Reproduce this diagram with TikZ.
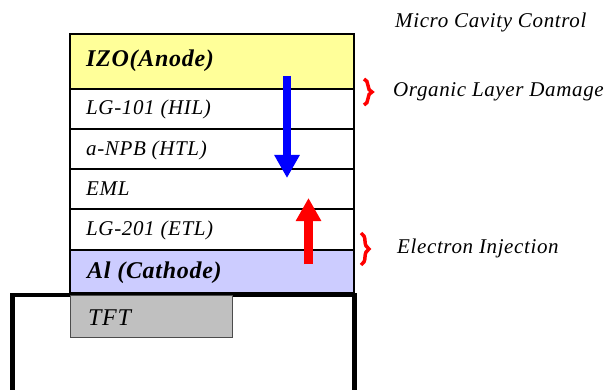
\documentclass[tikz,border=0pt]{standalone}
\usepackage{fontspec}
\setmainfont{Liberation Serif}[LetterSpace=3]
\usetikzlibrary{arrows.meta,decorations.pathreplacing}
\definecolor{anodeY}{HTML}{FFFF99}
\definecolor{cathB}{HTML}{CCCCFF}
\definecolor{tftG}{HTML}{C0C0C0}
\begin{document}
\begin{tikzpicture}[x=1pt,y=-1pt,
  layer/.style={draw=black,line width=1.4pt,minimum width=284pt,inner sep=0pt,anchor=north west,outer sep=0pt},
  lbl/.style={font=\fontsize{21}{24}\selectfont\itshape,anchor=west,inner sep=0pt},
  blbl/.style={font=\fontsize{24}{28}\selectfont\bfseries\itshape,anchor=west,inner sep=0pt},
  note/.style={font=\fontsize{21}{24}\selectfont\itshape,anchor=west,inner sep=0pt},
  bigarrow/.style={line width=8.5pt,-{Triangle[length=23pt,width=24pt]}},
  redbrace/.style={draw=red,line width=3.5pt,decorate,decoration={brace,amplitude=8pt,aspect=0.5}}]
\useasboundingbox (0,0) rectangle (612,390);
\begin{scope}
\clip (0,0) rectangle (612,390);
% substrate
\draw[line width=4.5pt] (12.5,396) coordinate (sbl) -- (12.5,295) -- (354.5,295) -- (354.5,396);
\end{scope}
% TFT
\node[draw=black!70,fill=tftG,line width=1pt,minimum width=162pt,minimum height=42pt,anchor=north west,inner sep=0pt] (tft) at (70,295) {};
\node[font=\fontsize{24}{28}\selectfont\itshape,anchor=west,inner sep=0pt] (tftl) at (88,318) {TFT};
% layers
\node[layer,fill=anodeY,minimum height=55pt] (izo) at (70,34) {};
\node[layer,minimum height=40pt] (hil) at (70,89) {};
\node[layer,minimum height=40pt] (htl) at (70,129) {};
\node[layer,minimum height=40pt] (eml) at (70,169) {};
\node[layer,minimum height=41pt] (etl) at (70,209) {};
\node[layer,fill=cathB,minimum height=43pt] (al) at (70,250) {};
\node[blbl] (izol) at (86,61) {IZO(Anode)};
\node[lbl] (hill) at (86,109) {LG-101 (HIL)};
\node[lbl] (htll) at (86,150) {a-NPB (HTL)};
\node[lbl] (emll) at (86,189) {EML};
\node[lbl] (etll) at (86,230) {LG-201 (ETL)};
\node[blbl] (all) at (87,273) {Al (Cathode)};
% arrows
\coordinate (bs) at (287,76);
\coordinate (be) at (287,178);
\draw[bigarrow,blue] (bs) -- (be);
\coordinate (rs) at (308.5,264);
\coordinate (re) at (308.5,198);
\draw[bigarrow,red] (rs) -- (re);
% braces
\coordinate (b1t) at (364,79);
\coordinate (b1b) at (364,105);
\draw[redbrace] (b1t) -- (b1b);
\coordinate (b2t) at (361,233);
\coordinate (b2b) at (361,265);
\draw[redbrace] (b2t) -- (b2b);
% notes
\node[note] (mcc) at (395,22) {Micro Cavity Control};
\node[note] (old) at (393,92) {Organic Layer Damage};
\node[note] (ei) at (397,248) {Electron Injection};
\end{tikzpicture}
\end{document}
